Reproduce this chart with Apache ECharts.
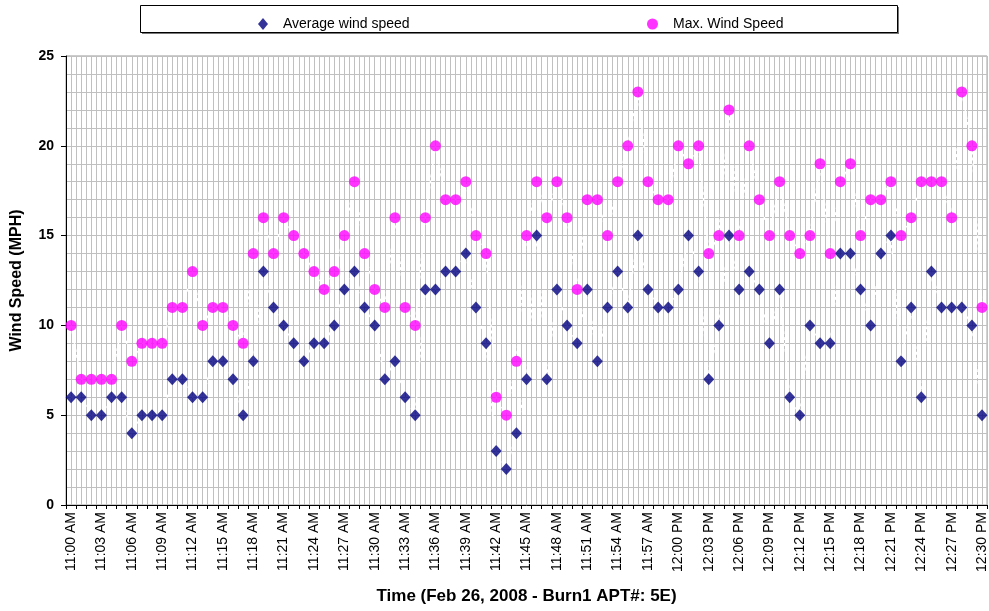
<!DOCTYPE html>
<html>
<head>
<meta charset="utf-8">
<script src="https://cdn.jsdelivr.net/npm/echarts@6/dist/echarts.min.js"></script>
<style>
html,body{margin:0;padding:0;background:#fff;}
#chart{width:989px;height:611px;}
</style>
</head>
<body>
<div id="chart"></div>
<script>
const times = [
"11:00 AM","11:01 AM","11:02 AM","11:03 AM","11:04 AM","11:05 AM","11:06 AM","11:07 AM","11:08 AM","11:09 AM",
"11:10 AM","11:11 AM","11:12 AM","11:13 AM","11:14 AM","11:15 AM","11:16 AM","11:17 AM","11:18 AM","11:19 AM",
"11:20 AM","11:21 AM","11:22 AM","11:23 AM","11:24 AM","11:25 AM","11:26 AM","11:27 AM","11:28 AM","11:29 AM",
"11:30 AM","11:31 AM","11:32 AM","11:33 AM","11:34 AM","11:35 AM","11:36 AM","11:37 AM","11:38 AM","11:39 AM",
"11:40 AM","11:41 AM","11:42 AM","11:43 AM","11:44 AM","11:45 AM","11:46 AM","11:47 AM","11:48 AM","11:49 AM",
"11:50 AM","11:51 AM","11:52 AM","11:53 AM","11:54 AM","11:55 AM","11:56 AM","11:57 AM","11:58 AM","11:59 AM",
"12:00 PM","12:01 PM","12:02 PM","12:03 PM","12:04 PM","12:05 PM","12:06 PM","12:07 PM","12:08 PM","12:09 PM",
"12:10 PM","12:11 PM","12:12 PM","12:13 PM","12:14 PM","12:15 PM","12:16 PM","12:17 PM","12:18 PM","12:19 PM",
"12:20 PM","12:21 PM","12:22 PM","12:23 PM","12:24 PM","12:25 PM","12:26 PM","12:27 PM","12:28 PM","12:29 PM",
"12:30 PM"];

const avgSpeed = [
6,6,5,5,6,6,4,5,5,5,
7,7,6,6,8,8,7,5,8,13,
11,10,9,8,9,9,10,12,13,11,
10,7,8,6,5,12,12,13,13,14,
11,9,3,2,4,7,15,7,12,10,
9,12,8,11,13,11,15,12,11,11,
12,15,13,7,10,15,12,13,12,9,
12,6,5,10,9,9,14,14,12,10,
14,15,8,11,6,13,11,11,11,10,
5];

const maxSpeed = [
10,7,7,7,7,10,8,9,9,9,
11,11,13,10,11,11,10,9,14,16,
14,16,15,14,13,12,13,15,18,14,
12,11,16,11,10,16,20,17,17,18,
15,14,6,5,8,15,18,16,18,16,
12,17,17,15,18,20,23,18,17,17,
20,19,20,14,15,22,15,20,17,15,
18,15,14,15,19,14,18,19,15,17,
17,18,15,16,18,18,18,16,23,20,
11];

const seriesNames = ["Average wind speed", "Max. Wind Speed"];
const yTicks = [0, 5, 10, 15, 20, 25];
const xTitle = "Time (Feb 26, 2008 - Burn1 APT#: 5E)";
const yTitle = "Wind Speed (MPH)";

const FONT = "'Liberation Sans', Arial, sans-serif";
const GRID = '#c0c0c0';
const AVG_COLOR = '#000080';
const MAX_COLOR = '#ff00ff';

const chart = echarts.init(document.getElementById('chart'), null, {renderer: 'canvas'});

const option = {
  animation: false,
  backgroundColor: '#fff',
  textStyle: {fontFamily: FONT},
  grid: {left: 66, top: 56, right: 0, bottom: 106, show: true, borderColor: '#999', borderWidth: 1, backgroundColor: 'transparent'},
  graphic: [
    {
      type: 'rect',
      left: 142, top: 7, z: 0,
      shape: {width: 757, height: 27},
      style: {fill: '#777', stroke: null}
    },
    {
      type: 'rect',
      left: 140, top: 5, z: 1,
      shape: {width: 757, height: 27},
      style: {fill: '#fff', stroke: '#000', lineWidth: 1}
    }
  ],
  legend: [
    {data: [seriesNames[0]], left: 253, top: 12, itemWidth: 10, itemHeight: 12, z: 5,
     textStyle: {fontSize: 14, color: '#000', fontFamily: FONT, padding: [0, 0, 0, 10]}},
    {data: [seriesNames[1]], left: 642, top: 12, itemWidth: 11, itemHeight: 11, z: 5,
     textStyle: {fontSize: 14, color: '#000', fontFamily: FONT, padding: [0, 0, 0, 10]}}
  ],
  xAxis: [
    {
      type: 'category',
      data: times,
      boundaryGap: true,
      position: 'bottom',
      name: xTitle,
      nameLocation: 'middle',
      nameGap: 83,
      nameTextStyle: {fontSize: 17, fontWeight: 'bold', color: '#000', fontFamily: FONT},
      axisLine: {show: true, lineStyle: {color: '#000', width: 1}},
      axisTick: {show: true, interval: 0, length: 4, lineStyle: {color: '#000'}},
      axisLabel: {interval: 2, rotate: 90, fontSize: 14, color: '#000', margin: 7, fontFamily: FONT},
      splitLine: {show: false}
    },
    {
      type: 'value',
      position: 'top',
      min: 0,
      max: times.length * 2,
      interval: 1,
      axisLine: {show: false},
      axisTick: {show: false},
      axisLabel: {show: false},
      splitLine: {show: true, lineStyle: {color: GRID, width: 1}}
    }
  ],
  yAxis: {
    type: 'value',
    min: yTicks[0],
    max: yTicks[yTicks.length - 1],
    interval: yTicks[1] - yTicks[0],
    name: yTitle,
    nameLocation: 'middle',
    nameGap: 41,
    nameTextStyle: {fontSize: 16, fontWeight: 'bold', color: '#000', fontFamily: FONT},
    axisLine: {show: true, lineStyle: {color: '#000', width: 1}},
    axisTick: {show: true, length: 5, lineStyle: {color: '#000'}},
    axisLabel: {fontSize: 14, fontWeight: 'bold', color: '#000', margin: 12, fontFamily: FONT},
    splitLine: {show: true, lineStyle: {color: GRID, width: 1}},
    minorTick: {show: false, splitNumber: 5},
    minorSplitLine: {show: true, lineStyle: {color: GRID, width: 1}}
  },
  series: [
    {
      type: 'line', xAxisIndex: 0, data: avgSpeed, symbol: 'none', silent: true, z: 2,
      lineStyle: {color: '#fff', width: 1.5, type: [3, 3]}
    },
    {
      type: 'line', xAxisIndex: 0, data: maxSpeed, symbol: 'none', silent: true, z: 2,
      lineStyle: {color: '#fff', width: 1.5, type: [3, 3]}
    },
    {
      name: seriesNames[0], type: 'scatter', xAxisIndex: 0, data: avgSpeed, z: 3,
      symbol: 'diamond', symbolSize: [11, 12],
      itemStyle: {color: AVG_COLOR}
    },
    {
      name: seriesNames[1], type: 'scatter', xAxisIndex: 0, data: maxSpeed, z: 4,
      symbol: 'circle', symbolSize: 11,
      itemStyle: {color: MAX_COLOR}
    }
  ]
};
chart.setOption(option);
</script>
</body>
</html>
